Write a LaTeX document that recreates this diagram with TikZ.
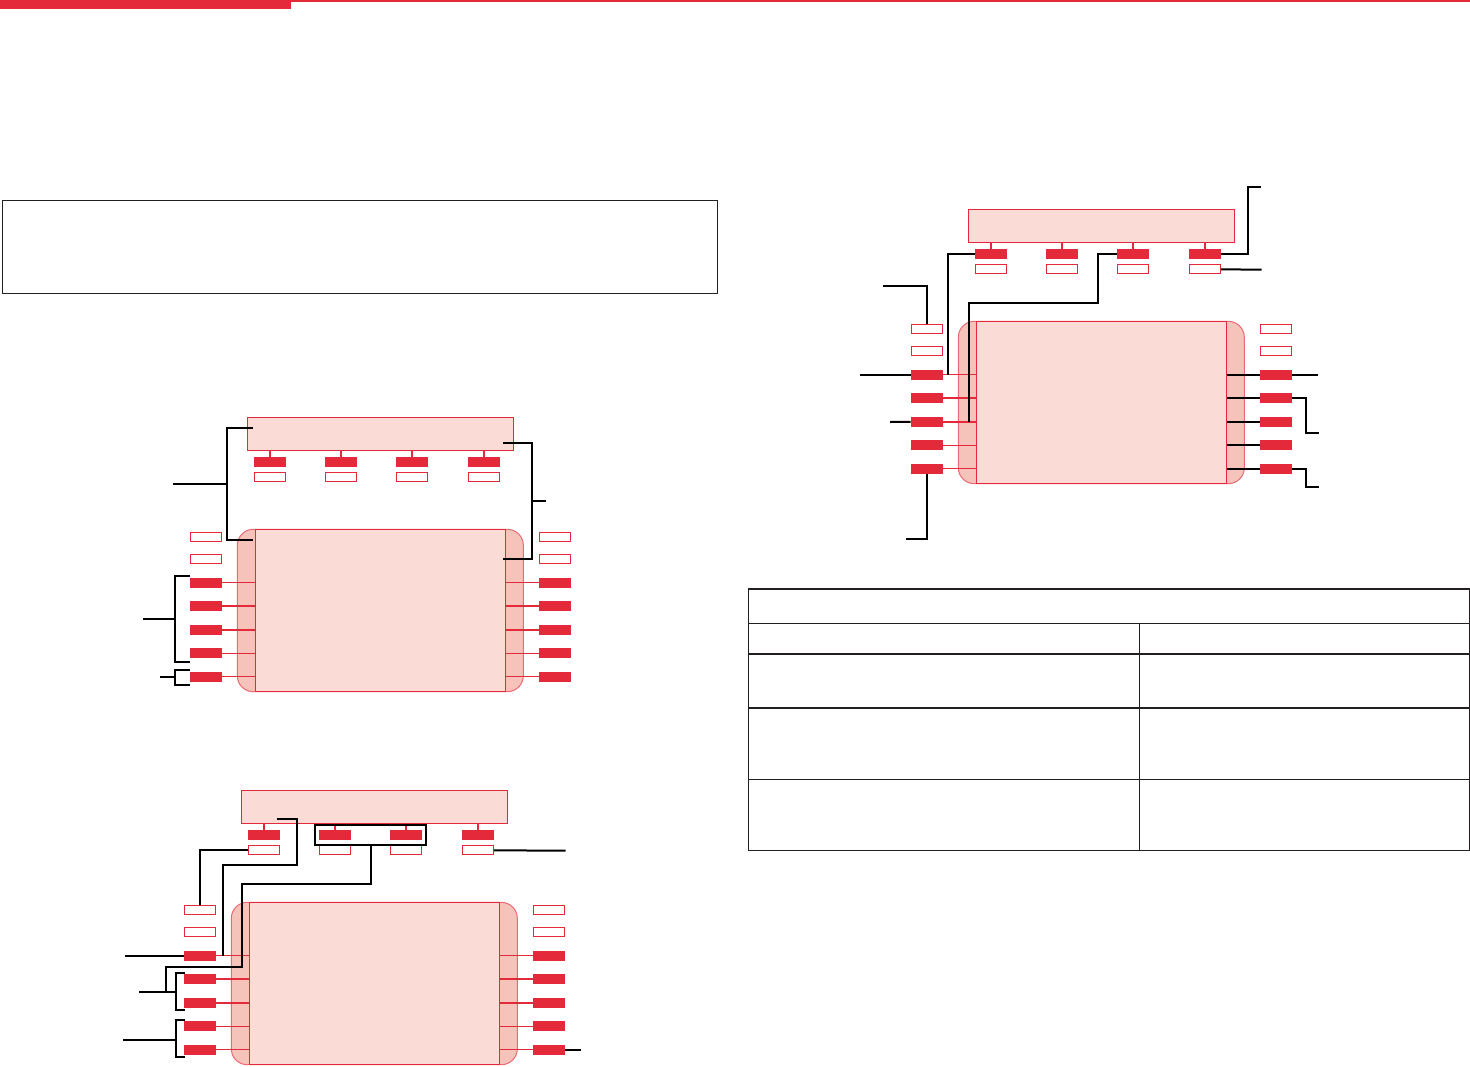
\documentclass[tikz,border=0pt]{standalone}
\usepackage{tikz}
\usetikzlibrary{fit,calc}

\definecolor{phred}{RGB}{228,41,58}
\definecolor{phpink}{RGB}{250,219,213}
\definecolor{phrose}{RGB}{245,195,186}
\definecolor{ink}{RGB}{35,31,32}

\tikzset{
  keyon/.style={fill=phred, inner sep=0pt, minimum width=16pt, minimum height=5pt},
  keyoff/.style={fill=white, draw=phred, line width=0.5pt, inner sep=0pt, minimum width=15.5pt, minimum height=4.5pt},
  lcd/.style={fill=phpink, draw=phred, line width=0.5pt, inner sep=0pt, minimum width=133pt, minimum height=16.3pt},
  body/.style={fill=phrose, draw=phred!70, line width=0.5pt, rounded corners=8pt, inner sep=0pt, minimum width=143pt, minimum height=81.2pt},
  scr/.style={fill=phpink, draw=phred, line width=0.5pt, inner sep=0pt, minimum width=125.2pt, minimum height=81.2pt},
  lead/.style={draw=phred, line width=0.75pt},
  call/.style={draw=black, line width=1pt},
  rule/.style={draw=ink, line width=0.65pt},
  pics/phone/.style={code={
    \node[lcd, anchor=north west] (-lcd) at (0,0) {};
    \foreach \i/\x in {1/22.7,2/93.7,3/164.7,4/236.6}{
      \draw[lead] (\x,33) -- (\x,40);
      \node[keyon] (-t\i) at (\x,44.7) {};
      \node[keyoff] (-u\i) at (\x,60) {};
    }
    \node[body] (-body) at (133,193.2) {};
    \node[scr] (-scr) at (133.2,193.2) {};
    \node[keyoff] (-m1) at (-41.8,120) {};
    \node[keyoff] (-m2) at (-41.8,142) {};
    \node[keyoff] (-n1) at (307.3,120) {};
    \node[keyoff] (-n2) at (307.3,142) {};
    \foreach \i/\y/\w in {1/165.4/0.75pt,2/188.5/0.75pt,3/212.5/0.75pt,4/235.6/0.35pt,5/259.4/0.75pt}{
      \draw[lead, line width=\w] (-41.3,\y) -- (8,\y);
      \draw[lead, line width=\w] (258.4,\y) -- (307.7,\y);
      \node[keyon] (-l\i) at (-41.3,\y) {};
      \node[keyon] (-r\i) at (307.7,\y) {};
    }
  }}
}

\begin{document}
\begin{tikzpicture}[x=0.5pt, y=-0.5pt]
\useasboundingbox (0,0) rectangle (1470,1066);

% header bar
\fill[phred] (0,0) rectangle (291,9);
\fill[phred] (291,0) rectangle (1470,2);

% note box and table
\node[rule, draw, anchor=north west, inner sep=0pt, minimum width=357.5pt, minimum height=46.5pt] (note) at (2,200) {};
\node[rule, draw, anchor=north west, inner sep=0pt, minimum width=360.3pt, minimum height=130.8pt] (tbl) at (748,588.3) {};
\foreach \y in {623.3,654,708,779.3}
  \draw[rule] (748,\y) -- (1468.6,\y);
\draw[rule] (1139.4,623.3) -- (1139.4,850);

% the three phones
\pic (pa) at (247.3,417.3) {phone};
\pic (pb) at (241.3,790.3) {phone};
\pic (pc) at (968.3,209.3) {phone};

% callouts, first phone
\coordinate (a1) at (252.7,427.7);
\coordinate (a2) at (252.7,540);
\coordinate (a3) at (173.3,484);
\coordinate (a4) at (503.3,442.7);
\coordinate (a5) at (503.3,559);
\coordinate (a6) at (546,501);
\coordinate (a7) at (190,575.7);
\coordinate (a8) at (190,662);
\coordinate (a9) at (143.3,619);
\coordinate (a10) at (190,669.7);
\coordinate (a11) at (190,685);
\coordinate (a12) at (160,677);
\draw[call] (a1) -- ++(-26,0) |- (a2);
\draw[call] (a3) -- ++(53.4,0);
\draw[call] (a4) -- ++(28.7,0) |- (a5);
\draw[call] (a6) -- ++(-14,0);
\draw[call] (a7) -- ++(-15.3,0) |- (a8);
\draw[call] (a9) -- ++(31.4,0);
\draw[call] (a10) -- ++(-15.3,0) |- (a11);
\draw[call] (a12) -- ++(14.7,0);

% callouts, second phone
\coordinate (b1) at (276.7,818.7);
\coordinate (b2) at (223.3,955.7);
\coordinate (b3) at (165.7,991.7);
\coordinate (b4) at (139.3,991.7);
\coordinate (b5) at (184.7,972.7);
\coordinate (b6) at (184.7,1010);
\coordinate (b7) at (565.7,850.7);
\coordinate (b8) at (125,955.7);
\coordinate (b9) at (184.7,1019.7);
\coordinate (b10) at (184.7,1057);
\coordinate (b11) at (123,1039.7);
\node[call, draw, inner xsep=2pt, inner ysep=2.2pt, fit=(pb-t2)(pb-t3)] (grp) {};
\draw[call] (pb-u1.west) -| (pb-m1.north);
\draw[call] (b1) -- ++(20.3,0) -- ++(0,46.3) -| (b2);
\draw[call] (grp.south) |- ++(-128.5,38.5) -- ++(0,83) -| (b3);
\draw[call] (b4) -- ++(36.4,0);
\draw[call] (b5) -- ++(-9,0) |- (b6);
\draw[call] (pb-u4.east) -- (b7);
\draw[call] (b8) -- (pb-l1.west);
\draw[call] (b9) -- ++(-9,0) |- (b10);
\draw[call] (b11) -- ++(52.7,0);
\draw[call] (pb-r5.east) -- ++(15.7,0);

% callouts, third phone
\coordinate (c1) at (968.7,422);
\coordinate (c2) at (1260.7,187.3);
\coordinate (c3) at (1261.7,269.7);
\coordinate (c4) at (883.3,285.7);
\coordinate (c5) at (860,374.7);
\coordinate (c6) at (890,422);
\coordinate (c7) at (906,539);
\coordinate (c8) at (1318,374.7);
\coordinate (c9) at (1319,433);
\coordinate (c10) at (1319,486.7);
\foreach \i in {1,...,5}
  \draw[call] (pc-r\i.west) -- (pc-r\i.west -| pc-scr.east);
\draw[call] (pc-t1.west) -| ([xshift=2.5pt]pc-l1.east);
\draw[call] (pc-t3.west) -- ++(-19,0) -- ++(0,48.7) -| (c1);
\draw[call] (pc-t4.east) -- ++(27,0) |- (c2);
\draw[call] (pc-u4.east) -- (c3);
\draw[call] (pc-m1.north) |- (c4);
\draw[call] (c5) -- (pc-l1.west);
\draw[call] (c6) -- (pc-l3.west);
\draw[call] (pc-l5.south) |- (c7);
\draw[call] (pc-r1.east) -- (c8);
\draw[call] (pc-r2.east) -- ++(13.7,0) |- (c9);
\draw[call] (pc-r5.east) -- ++(13.7,0) |- (c10);
\end{tikzpicture}
\end{document}
